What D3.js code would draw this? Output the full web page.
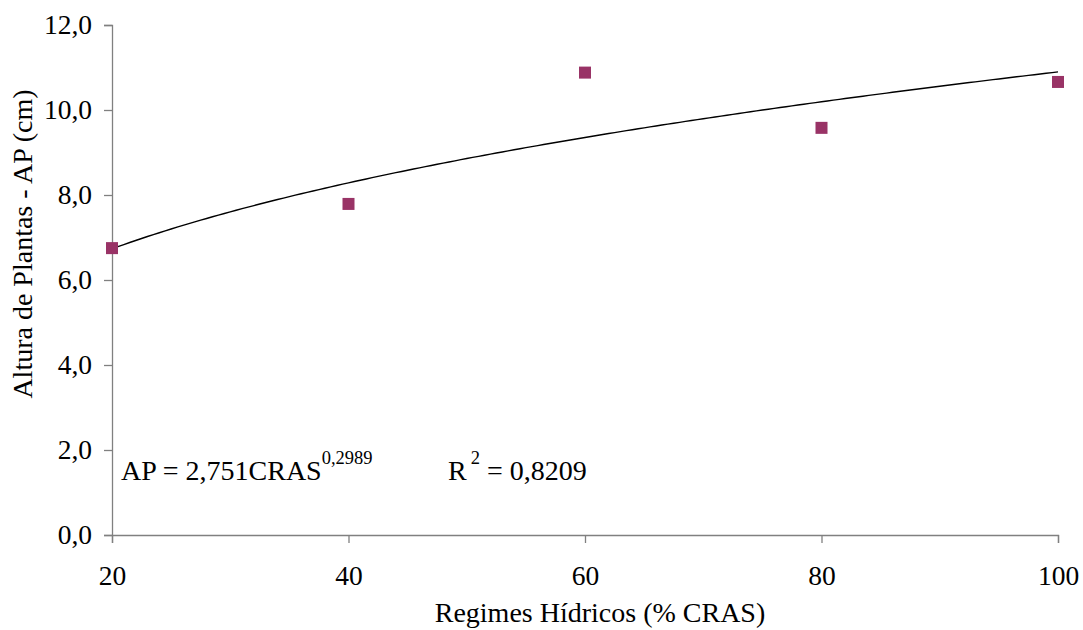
<!DOCTYPE html>
<html>
<head>
<meta charset="utf-8">
<script src="https://cdn.jsdelivr.net/npm/d3@7"></script>
<style>
  html, body { margin: 0; padding: 0; background: #fff; }
</style>
</head>
<body>
<svg id="chart" width="1083" height="630"></svg>
<script>
// Water regime (% CRAS) and plant height (cm)
const regimes = [20, 40, 60, 80, 100];
const heights = [6.75, 7.79, 10.88, 9.58, 10.66];

// Power fit AP = a * CRAS^b
const fitA = 2.751;
const fitB = 0.2989;
const fitR2 = "0,8209";

const xTicks = [20, 40, 60, 80, 100];
const yTicks = [0, 2, 4, 6, 8, 10, 12];

const FONT = "'Liberation Serif', 'Times New Roman', serif";

const svg = d3.select("#chart");
const margin = { left: 112, right: 25, top: 25, bottom: 95 };
const W = 1083, H = 630;

const x = d3.scaleLinear().domain([20, 100]).range([margin.left, W - margin.right]);
const y = d3.scaleLinear().domain([0, 12]).range([H - margin.bottom, margin.top]);

const fmt = v => d3.format(".1f")(v).replace(".", ",");

// Y axis
const yAxis = svg.append("g")
  .attr("transform", `translate(${margin.left},0)`)
  .call(d3.axisLeft(y).tickValues(yTicks).tickFormat(fmt).tickSize(8).tickPadding(12));
yAxis.select(".domain").attr("stroke", "#808080").attr("stroke-width", 1.3);
yAxis.selectAll(".tick line").attr("stroke", "#808080").attr("stroke-width", 1.3);
yAxis.selectAll(".tick text").attr("fill", "#000")
  .style("font-family", FONT).style("font-size", "27.5px");

// X axis
const xAxis = svg.append("g")
  .attr("transform", `translate(0,${y(0)})`)
  .call(d3.axisBottom(x).tickValues(xTicks).tickFormat(d3.format("d")).tickSize(8).tickPadding(22));
xAxis.select(".domain").attr("stroke", "#808080").attr("stroke-width", 1.3);
xAxis.selectAll(".tick line").attr("stroke", "#808080").attr("stroke-width", 1.3);
xAxis.selectAll(".tick text").attr("fill", "#000")
  .style("font-family", FONT).style("font-size", "27.5px");

// Fitted power curve
const curveX = d3.range(20, 100.01, 0.5);
const line = d3.line().x(d => x(d)).y(d => y(fitA * Math.pow(d, fitB)));
svg.append("path")
  .datum(curveX)
  .attr("d", line)
  .attr("fill", "none")
  .attr("stroke", "#000")
  .attr("stroke-width", 1.4);

// Observed points
const size = 12;
svg.append("g").selectAll("rect")
  .data(regimes.map((r, i) => ({ r, h: heights[i] })))
  .join("rect")
  .attr("x", d => x(d.r) - size / 2)
  .attr("y", d => y(d.h) - size / 2)
  .attr("width", size)
  .attr("height", size)
  .attr("fill", "#993366");

// Equation and R²
const eq = svg.append("text")
  .attr("x", 121).attr("y", 480)
  .attr("fill", "#000")
  .style("font-family", FONT).style("font-size", "28px");
eq.append("tspan").text("AP = 2,751CRAS");
eq.append("tspan").attr("dy", -16).style("font-size", "18.5px").text("0,2989");

const r2 = svg.append("text")
  .attr("x", 448).attr("y", 480)
  .attr("fill", "#000")
  .style("font-family", FONT).style("font-size", "28px");
r2.append("tspan").text("R");
r2.append("tspan").attr("dx", 4).attr("dy", -16).style("font-size", "18.5px").text("2");
r2.append("tspan").attr("dy", 16).text(" = " + fitR2);

// Axis titles
svg.append("text")
  .attr("x", 600)
  .attr("y", 622)
  .attr("text-anchor", "middle")
  .style("font-family", FONT).style("font-size", "28px")
  .text("Regimes Hídricos (% CRAS)");

svg.append("text")
  .attr("transform", "translate(32, 244) rotate(-90)")
  .attr("text-anchor", "middle")
  .style("font-family", FONT).style("font-size", "28px")
  .text("Altura de Plantas - AP (cm)");
</script>
</body>
</html>
